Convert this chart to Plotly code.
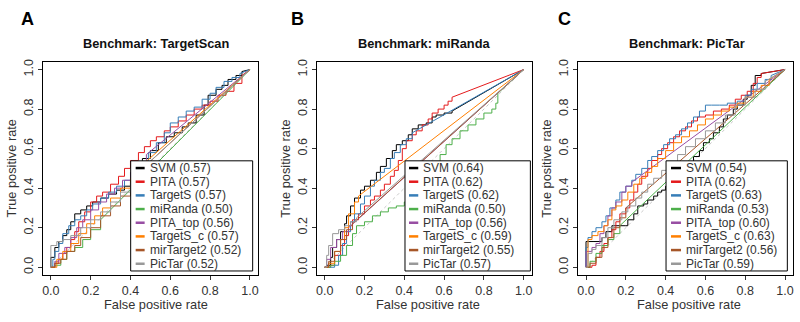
import plotly.graph_objects as go

# ---------------- data ----------------
methods = ["SVM", "PITA", "TargetS", "miRanda", "PITA_top", "TargetS_c", "mirTarget2", "PicTar"]
panel_titles = ["Benchmark: TargetScan", "Benchmark: miRanda", "Benchmark: PicTar"]
panel_letters = ["A", "B", "C"]
auc_targetscan = [0.57, 0.57, 0.57, 0.50, 0.56, 0.57, 0.52, 0.52]
auc_miranda = [0.64, 0.62, 0.62, 0.50, 0.56, 0.59, 0.55, 0.57]
auc_pictar = [0.54, 0.62, 0.63, 0.53, 0.60, 0.63, 0.56, 0.59]
tick_vals = [0, 0.2, 0.4, 0.6, 0.8, 1.0]
tick_labels = ["0.0", "0.2", "0.4", "0.6", "0.8", "1.0"]

# --- Benchmark: TargetScan ---
ts_SVM_fpr = [0, 0, 0.02, 0.04, 0.06, 0.08, 0.10, 0.12, 0.15, 0.18, 0.21, 0.25, 0.29, 0.33, 0.37, 0.40, 0.43, 0.46, 0.50, 0.54, 0.58, 0.62, 0.66, 0.69, 0.73, 0.77, 0.79, 0.83, 0.86, 0.89, 0.93, 0.96, 1.0]
ts_SVM_tpr = [0, 0.05, 0.10, 0.13, 0.16, 0.19, 0.23, 0.27, 0.29, 0.31, 0.33, 0.35, 0.37, 0.39, 0.41, 0.44, 0.49, 0.55, 0.59, 0.63, 0.66, 0.68, 0.71, 0.73, 0.77, 0.82, 0.87, 0.90, 0.92, 0.95, 0.97, 0.99, 1.0]
ts_PITA_fpr = [0, 0.02, 0.04, 0.06, 0.08, 0.10, 0.12, 0.14, 0.17, 0.20, 0.23, 0.26, 0.30, 0.34, 0.37, 0.40, 0.44, 0.47, 0.50, 0.53, 0.57, 0.60, 0.64, 0.68, 0.72, 0.76, 0.80, 0.84, 0.88, 0.92, 0.96, 1.0]
ts_PITA_tpr = [0, 0.02, 0.04, 0.07, 0.10, 0.14, 0.18, 0.23, 0.28, 0.33, 0.36, 0.38, 0.42, 0.46, 0.50, 0.54, 0.58, 0.61, 0.64, 0.66, 0.69, 0.71, 0.74, 0.77, 0.80, 0.82, 0.84, 0.87, 0.89, 0.93, 0.97, 1.0]
ts_TargetS_fpr = [0, 0.01, 0.02, 0.04, 0.06, 0.09, 0.12, 0.15, 0.18, 0.21, 0.25, 0.29, 0.33, 0.37, 0.41, 0.45, 0.49, 0.53, 0.57, 0.60, 0.64, 0.68, 0.72, 0.76, 0.80, 0.83, 0.87, 0.91, 0.95, 1.0]
ts_TargetS_tpr = [0, 0.04, 0.08, 0.12, 0.17, 0.21, 0.24, 0.26, 0.29, 0.32, 0.35, 0.38, 0.41, 0.44, 0.48, 0.53, 0.58, 0.63, 0.68, 0.73, 0.76, 0.79, 0.81, 0.85, 0.88, 0.91, 0.94, 0.96, 0.98, 1.0]
ts_miRanda_fpr = [0, 0.02, 0.05, 0.08, 0.12, 0.16, 0.20, 0.25, 1.0]
ts_miRanda_tpr = [0, 0.01, 0.04, 0.08, 0.10, 0.14, 0.19, 0.24, 1.0]
ts_PITA_top_fpr = [0, 0.02, 0.04, 0.07, 0.10, 0.13, 0.16, 0.20, 0.24, 0.28, 0.32, 0.36, 0.40, 0.44, 0.48, 1.0]
ts_PITA_top_tpr = [0, 0.03, 0.07, 0.10, 0.15, 0.20, 0.24, 0.29, 0.33, 0.37, 0.40, 0.44, 0.48, 0.52, 0.57, 1.0]
ts_TargetS_c_fpr = [0, 0.03, 0.06, 0.10, 0.14, 0.18, 0.22, 0.26, 0.30, 0.35, 0.40, 0.44, 1.0]
ts_TargetS_c_tpr = [0, 0.04, 0.08, 0.12, 0.17, 0.22, 0.26, 0.30, 0.35, 0.40, 0.45, 0.50, 1.0]
ts_mirTarget2_fpr = [0, 0.02, 0.05, 0.08, 0.12, 0.15, 0.20, 0.25, 0.30, 0.35, 0.40, 0.44, 1.0]
ts_mirTarget2_tpr = [0, 0.02, 0.04, 0.08, 0.11, 0.15, 0.20, 0.26, 0.31, 0.36, 0.42, 0.48, 1.0]
ts_PicTar_fpr = [0, 0, 0.02, 0.03, 0.06, 0.10, 0.15, 0.20, 0.25, 0.30, 0.35, 0.40, 0.45, 1.0]
ts_PicTar_tpr = [0, 0.11, 0.11, 0.13, 0.14, 0.16, 0.20, 0.24, 0.28, 0.33, 0.38, 0.43, 0.49, 1.0]

# --- Benchmark: miRanda ---
mr_SVM_fpr = [0, 0.01, 0.03, 0.04, 0.06, 0.08, 0.10, 0.11, 0.13, 0.15, 0.18, 0.20, 0.23, 0.26, 0.28, 0.31, 0.34, 0.36, 0.39, 0.42, 0.44, 0.47, 0.51, 0.54, 0.56, 0.60, 0.64, 1.0]
mr_SVM_tpr = [0, 0.01, 0.05, 0.10, 0.14, 0.18, 0.22, 0.26, 0.31, 0.35, 0.39, 0.41, 0.44, 0.48, 0.51, 0.55, 0.59, 0.62, 0.64, 0.67, 0.70, 0.72, 0.73, 0.76, 0.77, 0.78, 0.79, 1.0]
mr_PITA_fpr = [0, 0.03, 0.05, 0.08, 0.10, 0.12, 0.14, 0.17, 0.20, 0.23, 0.25, 0.28, 0.30, 0.33, 0.35, 0.37, 0.39, 0.41, 0.44, 0.46, 0.49, 0.52, 0.54, 0.57, 0.60, 0.62, 0.64, 1.0]
mr_PITA_tpr = [0, 0.01, 0.06, 0.11, 0.16, 0.21, 0.24, 0.27, 0.31, 0.34, 0.36, 0.39, 0.42, 0.46, 0.49, 0.54, 0.60, 0.64, 0.67, 0.69, 0.72, 0.75, 0.78, 0.80, 0.82, 0.84, 0.86, 1.0]
mr_TargetS_fpr = [0, 0.05, 0.07, 0.09, 0.11, 0.13, 0.15, 0.18, 0.20, 0.23, 0.25, 0.28, 0.30, 0.33, 0.35, 0.38, 0.41, 0.44, 1.0]
mr_TargetS_tpr = [0, 0.01, 0.06, 0.12, 0.18, 0.23, 0.27, 0.32, 0.36, 0.41, 0.44, 0.48, 0.50, 0.55, 0.58, 0.62, 0.65, 0.68, 1.0]
mr_miRanda_fpr = [0, 0.03, 0.05, 0.08, 0.11, 0.14, 0.16, 0.20, 0.24, 0.28, 0.32, 0.36, 0.40, 0.45, 0.49, 0.52, 0.55, 0.58, 0.61, 0.64, 0.68, 0.72, 0.76, 0.80, 0.84, 0.86, 0.87, 1.0]
mr_miRanda_tpr = [0, 0.01, 0.03, 0.06, 0.11, 0.17, 0.21, 0.23, 0.26, 0.28, 0.30, 0.31, 0.33, 0.35, 0.40, 0.47, 0.52, 0.57, 0.62, 0.65, 0.69, 0.72, 0.75, 0.78, 0.80, 0.83, 0.88, 1.0]
mr_PITA_top_fpr = [0, 0.01, 0.03, 0.06, 0.09, 0.12, 1.0]
mr_PITA_top_tpr = [0, 0.04, 0.10, 0.14, 0.18, 0.20, 1.0]
mr_TargetS_c_fpr = [0, 0.02, 0.05, 0.08, 0.10, 0.12, 0.15, 0.17, 1.0]
mr_TargetS_c_tpr = [0, 0.02, 0.08, 0.14, 0.20, 0.27, 0.33, 0.36, 1.0]
mr_mirTarget2_fpr = [0, 0.02, 0.05, 0.08, 0.11, 0.14, 1.0]
mr_mirTarget2_tpr = [0, 0.03, 0.08, 0.14, 0.19, 0.22, 1.0]
mr_PicTar_fpr = [0, 0.01, 0.02, 0.04, 0.07, 0.10, 0.13, 0.16, 1.0]
mr_PicTar_tpr = [0, 0.06, 0.11, 0.17, 0.19, 0.21, 0.23, 0.25, 1.0]

# --- Benchmark: PicTar ---
pt_SVM_fpr = [0, 0, 0.04, 0.08, 0.10, 0.13, 0.20, 0.21, 0.24, 0.26, 0.29, 0.31, 0.34, 0.36, 0.38, 0.40, 0.43, 0.46, 0.49, 0.51, 0.54, 0.57, 0.59, 0.62, 0.64, 0.67, 0.69, 0.71, 0.74, 0.76, 0.79, 0.81, 0.83, 0.85, 0.88, 1.0]
pt_SVM_tpr = [0, 0.13, 0.13, 0.15, 0.18, 0.21, 0.21, 0.24, 0.27, 0.31, 0.32, 0.34, 0.36, 0.38, 0.39, 0.41, 0.44, 0.48, 0.50, 0.53, 0.56, 0.59, 0.63, 0.65, 0.68, 0.71, 0.75, 0.77, 0.80, 0.82, 0.85, 0.87, 0.92, 0.97, 0.98, 1.0]
pt_PITA_fpr = [0, 0.03, 0.05, 0.07, 0.09, 0.11, 0.13, 0.15, 0.17, 0.20, 0.22, 0.24, 0.26, 0.28, 0.31, 0.33, 0.36, 0.38, 0.41, 0.44, 0.47, 0.50, 0.53, 0.56, 0.60, 0.64, 0.68, 0.72, 0.75, 0.78, 0.81, 0.84, 0.86, 0.88, 1.0]
pt_PITA_tpr = [0, 0.01, 0.05, 0.08, 0.12, 0.15, 0.19, 0.23, 0.27, 0.30, 0.34, 0.38, 0.42, 0.46, 0.50, 0.54, 0.57, 0.60, 0.63, 0.66, 0.69, 0.71, 0.74, 0.76, 0.77, 0.79, 0.80, 0.82, 0.85, 0.87, 0.89, 0.93, 0.96, 0.98, 1.0]
pt_TargetS_fpr = [0, 0, 0.01, 0.03, 0.05, 0.08, 0.10, 0.12, 0.15, 0.17, 0.20, 0.23, 0.25, 0.28, 0.31, 0.33, 0.36, 0.39, 0.42, 0.45, 0.48, 0.51, 0.54, 0.57, 0.60, 0.63, 0.67, 0.71, 0.76, 0.80, 0.83, 0.86, 0.90, 0.93, 1.0]
pt_TargetS_tpr = [0, 0.10, 0.15, 0.18, 0.20, 0.23, 0.26, 0.30, 0.34, 0.38, 0.41, 0.44, 0.47, 0.50, 0.54, 0.56, 0.59, 0.62, 0.65, 0.67, 0.70, 0.73, 0.76, 0.79, 0.82, 0.82, 0.82, 0.83, 0.84, 0.87, 0.90, 0.93, 0.95, 0.97, 1.0]
pt_miRanda_fpr = [0, 0.02, 0.05, 0.08, 0.11, 0.14, 0.17, 1.0]
pt_miRanda_tpr = [0, 0.03, 0.07, 0.11, 0.14, 0.17, 0.21, 1.0]
pt_PITA_top_fpr = [0, 0, 0.03, 0.05, 0.07, 0.09, 0.11, 0.13, 0.15, 0.18, 0.20, 0.23, 1.0]
pt_PITA_top_tpr = [0, 0.08, 0.10, 0.12, 0.17, 0.21, 0.26, 0.30, 0.33, 0.38, 0.41, 0.43, 1.0]
pt_TargetS_c_fpr = [0, 0.01, 0.03, 0.06, 0.09, 0.11, 0.13, 0.15, 0.18, 0.21, 0.24, 0.27, 0.30, 0.33, 0.36, 0.40, 0.44, 0.48, 0.52, 0.56, 0.60, 0.64, 0.68, 0.72, 0.76, 0.80, 0.84, 0.88, 0.92, 1.0]
pt_TargetS_c_tpr = [0, 0.14, 0.16, 0.18, 0.21, 0.24, 0.29, 0.31, 0.34, 0.38, 0.42, 0.45, 0.48, 0.51, 0.55, 0.59, 0.63, 0.66, 0.69, 0.72, 0.75, 0.77, 0.79, 0.81, 0.83, 0.86, 0.89, 0.92, 0.95, 1.0]
pt_mirTarget2_fpr = [0, 0.02, 0.05, 0.08, 0.11, 0.14, 0.17, 0.20, 1.0]
pt_mirTarget2_tpr = [0, 0.02, 0.05, 0.10, 0.15, 0.20, 0.25, 0.30, 1.0]
pt_PicTar_fpr = [0, 0.01, 0.03, 0.05, 0.08, 0.11, 0.14, 0.18, 0.21, 0.25, 0.28, 0.31, 0.34, 0.38, 0.42, 0.46, 0.50, 0.55, 0.60, 0.65, 0.70, 0.75, 0.80, 0.85, 0.90, 1.0]
pt_PicTar_tpr = [0, 0.07, 0.09, 0.11, 0.15, 0.20, 0.24, 0.28, 0.31, 0.35, 0.38, 0.42, 0.45, 0.49, 0.53, 0.57, 0.61, 0.65, 0.69, 0.73, 0.77, 0.82, 0.86, 0.90, 0.94, 1.0]

panels = [
    (auc_targetscan, [(ts_SVM_fpr, ts_SVM_tpr), (ts_PITA_fpr, ts_PITA_tpr), (ts_TargetS_fpr, ts_TargetS_tpr),
                      (ts_miRanda_fpr, ts_miRanda_tpr), (ts_PITA_top_fpr, ts_PITA_top_tpr),
                      (ts_TargetS_c_fpr, ts_TargetS_c_tpr), (ts_mirTarget2_fpr, ts_mirTarget2_tpr),
                      (ts_PicTar_fpr, ts_PicTar_tpr)]),
    (auc_miranda, [(mr_SVM_fpr, mr_SVM_tpr), (mr_PITA_fpr, mr_PITA_tpr), (mr_TargetS_fpr, mr_TargetS_tpr),
                   (mr_miRanda_fpr, mr_miRanda_tpr), (mr_PITA_top_fpr, mr_PITA_top_tpr),
                   (mr_TargetS_c_fpr, mr_TargetS_c_tpr), (mr_mirTarget2_fpr, mr_mirTarget2_tpr),
                   (mr_PicTar_fpr, mr_PicTar_tpr)]),
    (auc_pictar, [(pt_SVM_fpr, pt_SVM_tpr), (pt_PITA_fpr, pt_PITA_tpr), (pt_TargetS_fpr, pt_TargetS_tpr),
                  (pt_miRanda_fpr, pt_miRanda_tpr), (pt_PITA_top_fpr, pt_PITA_top_tpr),
                  (pt_TargetS_c_fpr, pt_TargetS_c_tpr), (pt_mirTarget2_fpr, pt_mirTarget2_tpr),
                  (pt_PicTar_fpr, pt_PicTar_tpr)]),
]

# ---------------- style / layout ----------------
colors = ["#000000", "#E41A1C", "#377EB8", "#4DAF4A", "#984EA3", "#FF7F00", "#A65628", "#999999"]
FONT = "Liberation Sans, Arial, Helvetica, sans-serif"
TXT = "#333333"
W, H = 800, 322


def px(x):
    return x / W


def py(y):
    return 1 - y / H


x_dom_px = [(42, 257.5), (316.5, 532), (578.5, 794)]
y_dom_px = (59.2, 274.7)
title_x = [155, 424.5, 688]
xlab_x = [155.7, 428.3, 690]
ylab_x = [10, 285, 546.7]
letter_x = [26.7, 297.5, 565]
leg_box = [(130, 252.3), (405, 530.7), (666.7, 788.3)]
leg_seg = [(135, 144), (409, 418.3), (671.7, 681.7)]
LEG_TOP, LEG_BOT = 159.3, 270.5
LEG_Y0, LEG_DY = 166.6, 13.8

fig = go.Figure()
shapes = []
annotations = []

for p, (aucs, curves) in enumerate(panels):
    xa = "x" if p == 0 else f"x{p+1}"
    ya = "y" if p == 0 else f"y{p+1}"
    # diagonal reference
    fig.add_trace(go.Scatter(x=[0, 1], y=[0, 1], mode="lines", xaxis=xa, yaxis=ya,
                             line=dict(color="#c8c8c8", width=1, dash="dot"),
                             showlegend=False, hoverinfo="skip"))
    for i, (fpr, tpr) in enumerate(curves):
        fig.add_trace(go.Scatter(x=fpr[:-1], y=tpr[:-1], mode="lines", xaxis=xa, yaxis=ya,
                                 line=dict(color=colors[i], width=1, shape="hv"),
                                 name=methods[i], showlegend=False))
        fig.add_trace(go.Scatter(x=fpr[-2:], y=tpr[-2:], mode="lines", xaxis=xa, yaxis=ya,
                                 line=dict(color=colors[i], width=1),
                                 name=methods[i], showlegend=False))

    ax_common = dict(range=[-0.04, 1.04], showline=True, linecolor="black", linewidth=1,
                     mirror=True, ticks="outside", ticklen=4, tickwidth=1, tickcolor="#333333",
                     tickvals=tick_vals, ticktext=tick_labels, showgrid=False, zeroline=False,
                     tickfont=dict(family=FONT, size=12.5, color=TXT))
    x0, x1 = x_dom_px[p]
    fig.update_layout(**{
        ("xaxis" if p == 0 else f"xaxis{p+1}"): dict(ax_common, domain=[px(x0), px(x1)],
                                                     anchor=ya),
        ("yaxis" if p == 0 else f"yaxis{p+1}"): dict(ax_common, domain=[py(y_dom_px[1]), py(y_dom_px[0])],
                                                     anchor=xa, tickangle=-90),
    })

    # titles and labels
    annotations.append(dict(x=px(letter_x[p]), y=py(16.5), xref="paper", yref="paper",
                            text=f"<b>{panel_letters[p]}</b>", showarrow=False,
                            font=dict(family=FONT, size=18, color="black"),
                            xanchor="center", yanchor="middle"))
    annotations.append(dict(x=px(title_x[p]), y=py(40.7), xref="paper", yref="paper",
                            text=f"<b>{panel_titles[p]}</b>", showarrow=False,
                            font=dict(family=FONT, size=12.8, color="#111111"),
                            xanchor="center", yanchor="middle"))
    annotations.append(dict(x=px(xlab_x[p]), y=py(304), xref="paper", yref="paper",
                            text="False positive rate", showarrow=False,
                            font=dict(family=FONT, size=12.8, color=TXT),
                            xanchor="center", yanchor="middle"))
    annotations.append(dict(x=px(ylab_x[p]), y=py(167), xref="paper", yref="paper",
                            text="True positive rate", showarrow=False, textangle=-90,
                            font=dict(family=FONT, size=12.8, color=TXT),
                            xanchor="center", yanchor="middle"))

    # legend
    lx0, lx1 = leg_box[p]
    shapes.append(dict(type="rect", xref="paper", yref="paper", layer="above",
                       x0=px(lx0), x1=px(lx1), y0=py(LEG_BOT), y1=py(LEG_TOP),
                       line=dict(color="black", width=1), fillcolor="white"))
    sx0, sx1 = leg_seg[p]
    for i, m in enumerate(methods):
        yy = LEG_Y0 + LEG_DY * i
        shapes.append(dict(type="line", xref="paper", yref="paper", layer="above",
                           x0=px(sx0), x1=px(sx1), y0=py(yy), y1=py(yy),
                           line=dict(color=colors[i], width=2.5)))
        annotations.append(dict(x=px(sx1 + 4), y=py(yy), xref="paper", yref="paper",
                                text=f"{m} ({aucs[i]:.2f})", showarrow=False,
                                font=dict(family=FONT, size=12, color=TXT),
                                borderpad=0, xanchor="left", yanchor="middle"))

fig.update_layout(width=W, height=H, margin=dict(l=0, r=0, t=0, b=0),
                  plot_bgcolor="white", paper_bgcolor="white",
                  shapes=shapes, annotations=annotations, showlegend=False)

fig.write_html("out.html")
